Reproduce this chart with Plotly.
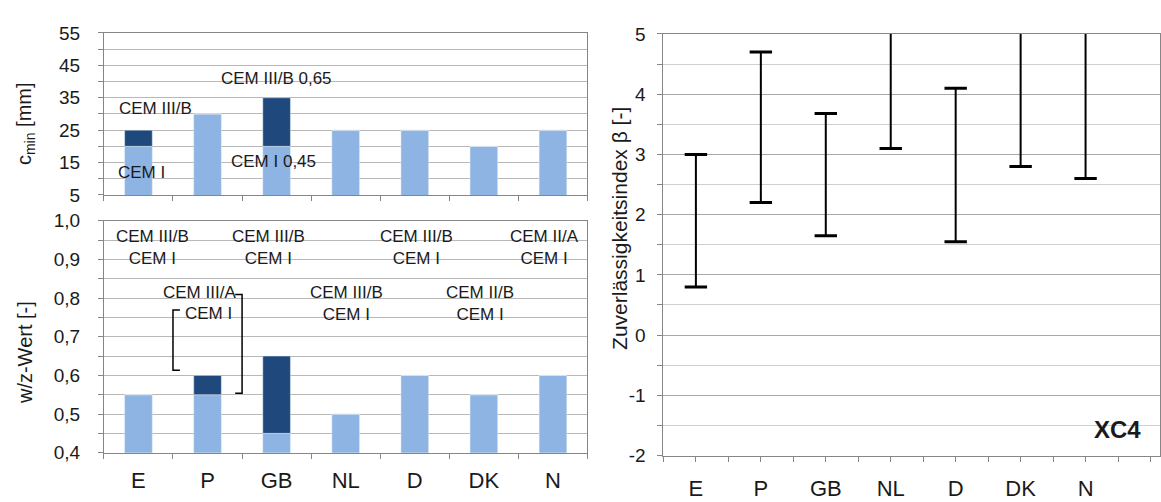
import plotly.graph_objects as go

# Country codes shared by all three panels
countries = ["E", "P", "GB", "NL", "D", "DK", "N"]

# Minimum concrete cover c_min [mm]: CEM I value and upper value (CEM III/B)
cmin_lower = [20, 30, 20, 25, 25, 20, 25]
cmin_upper = [25, 30, 35, 25, 25, 20, 25]

# Maximum w/c ratio: lower value and upper value depending on cement type
wz_lower = [0.55, 0.55, 0.45, 0.50, 0.60, 0.55, 0.60]
wz_upper = [0.55, 0.60, 0.65, 0.50, 0.60, 0.55, 0.60]

# Reliability index beta range per country (upper ends above 5 run off the axis)
beta_low = [0.8, 2.2, 1.65, 3.1, 1.55, 2.8, 2.6]
beta_high = [3.0, 4.7, 3.68, 5.6, 4.1, 5.6, 5.6]

# Axis tick labels
cmin_ticks = [5, 15, 25, 35, 45, 55]
beta_ticks = [-2, -1, 0, 1, 2, 3, 4, 5]
beta_ticktext = ["-2", "-1", "0", "1", "2", "3", "4", "5"]

# Cement-type notes (text, x position in category units, y in data units)
cmin_notes = [
    ("CEM III/B", 0.24, 31.6),
    ("CEM I", 0.05, 11.8),
    ("CEM III/B 0,65", 2.0, 40.8),
    ("CEM I 0,45", 1.96, 15.4),
]
wz_notes = [
    ("CEM III/B<br>CEM I", 0.2, 0.932),
    ("CEM III/B<br>CEM I", 1.88, 0.932),
    ("CEM III/B<br>CEM I", 4.02, 0.932),
    ("CEM II/A<br>CEM I", 5.88, 0.932),
    ("CEM III/A", 0.89, 0.814),
    ("CEM I", 1.01, 0.761),
    ("CEM III/B<br>CEM I", 3.01, 0.787),
    ("CEM II/B<br>CEM I", 4.95, 0.787),
]

LIGHT = "#8DB4E2"
DARK = "#1F497D"
GRID = "#B8B8B8"
GRID_MINOR = "#CFCFCF"
LINE = "#868686"
TEXT = "#1a1a1a"
FONT = "Liberation Sans, Arial, sans-serif"

W, H = 1161, 502
left_x = [104 / W, 588 / W]
top_y = [1 - 193 / H, 1 - 24 / H]
bot_y = [1 - 462 / H, 1 - 220 / H]
right_x = [664 / W, 1.0]
right_y = [1 - 465 / H, 1 - 25 / H]

fig = go.Figure()

# --- c_min panel ---
fig.add_trace(go.Bar(x=countries, y=cmin_lower, marker_color=LIGHT, width=0.4,
                     xaxis="x", yaxis="y", showlegend=False))
fig.add_trace(go.Bar(x=countries, y=[u - l for u, l in zip(cmin_upper, cmin_lower)],
                     base=cmin_lower, marker_color=DARK, width=0.4,
                     xaxis="x", yaxis="y", showlegend=False))

# --- w/z panel ---
fig.add_trace(go.Bar(x=countries, y=wz_lower, marker_color=LIGHT, width=0.4,
                     xaxis="x2", yaxis="y2", showlegend=False))
fig.add_trace(go.Bar(x=countries, y=[u - l for u, l in zip(wz_upper, wz_lower)],
                     base=wz_lower, marker_color=DARK, width=0.4,
                     xaxis="x2", yaxis="y2", showlegend=False))

# --- reliability index panel: vertical ranges with end caps ---
pos = list(range(1, len(countries) + 1))
for xi, lo, hi in zip(pos, beta_low, beta_high):
    fig.add_trace(go.Scatter(x=[xi, xi], y=[lo, hi], mode="lines+markers",
                             line=dict(color="black", width=2),
                             marker=dict(symbol="line-ew", size=16,
                                         line=dict(color="black", width=3)),
                             cliponaxis=True, xaxis="x3", yaxis="y3",
                             showlegend=False, hoverinfo="skip"))

ann = []
for txt, x, y in cmin_notes:
    ann.append(dict(text=txt, x=x, y=y, xref="x", yref="y", showarrow=False,
                    font=dict(size=17, color=TEXT)))
for txt, x, y in wz_notes:
    ann.append(dict(text=txt, x=x, y=y, xref="x2", yref="y2", showarrow=False,
                    font=dict(size=17, color=TEXT)))

# Axis titles
ann.append(dict(text="c<sub>min</sub> [mm]", x=25 / W, y=1 - 118 / H, xref="paper", yref="paper",
                xanchor="center", yanchor="middle",
                textangle=-90, showarrow=False, font=dict(size=20, color=TEXT)))
ann.append(dict(text="w/z-Wert [-]", x=25 / W, y=1 - 357 / H, xref="paper", yref="paper",
                xanchor="center", yanchor="middle",
                textangle=-90, showarrow=False, font=dict(size=20, color=TEXT)))
ann.append(dict(text="Zuverlässigkeitsindex β [-]", x=620 / W, y=1 - 228 / H, xref="paper",
                yref="paper", xanchor="center", yanchor="middle",
                textangle=-90, showarrow=False, font=dict(size=21, color=TEXT)))
ann.append(dict(text="<b>XC4</b>", x=1118 / W, y=1 - 438 / H, xref="paper", yref="paper",
                xanchor="center", yanchor="middle",
                showarrow=False, font=dict(size=24, color=TEXT)))

# Brackets linking the P notes to the bar values
shapes = [
    dict(type="path", path="M 0.60,0.769 L 0.50,0.769 L 0.50,0.613 L 0.60,0.613",
         xref="x2", yref="y2", line=dict(color="black", width=1.5)),
    dict(type="path", path="M 1.40,0.809 L 1.50,0.809 L 1.50,0.554 L 1.40,0.554",
         xref="x2", yref="y2", line=dict(color="black", width=1.5)),
]

cat_x = dict(type="category", categoryorder="array", categoryarray=countries,
             range=[-0.5, 6.5], domain=left_x, tickson="boundaries", ticks="outside",
             ticklen=5, tickcolor=LINE, showline=True, linecolor=LINE, mirror=True,
             showgrid=False)

fig.update_layout(
    width=W, height=H, margin=dict(l=0, r=0, t=0, b=0),
    paper_bgcolor="white", plot_bgcolor="white",
    separators=",.", barmode="overlay", bargap=0.6,
    font=dict(family=FONT, color=TEXT),
    xaxis=dict(cat_x, anchor="y", showticklabels=False),
    yaxis=dict(domain=top_y, anchor="x", range=[5, 55], tickvals=cmin_ticks,
               ticks="outside", ticklen=5, tickcolor=LINE, showline=True, linecolor=LINE,
               mirror=True, showgrid=True, gridcolor=GRID, zeroline=False,
               tickfont=dict(size=19), ticklabelstandoff=14,
               minor=dict(dtick=5, tick0=5, ticks="outside", ticklen=5, tickcolor=LINE,
                          showgrid=True, gridcolor=GRID)),
    xaxis2=dict(cat_x, anchor="y2", showticklabels=True, tickfont=dict(size=22),
                ticklabelstandoff=8),
    yaxis2=dict(domain=bot_y, anchor="x2", range=[0.4, 1.0], dtick=0.1, tick0=0.4,
                tickformat=".1f", ticks="outside", ticklen=5, tickcolor=LINE,
                showline=True, linecolor=LINE, mirror=True, showgrid=True, gridcolor=GRID,
                zeroline=False, tickfont=dict(size=19), ticklabelstandoff=14,
                minor=dict(dtick=0.05, tick0=0.4, ticks="outside", ticklen=5, tickcolor=LINE,
                           showgrid=True, gridcolor=GRID)),
    xaxis3=dict(domain=right_x, anchor="y3", range=[0.5, 8.146], tickvals=pos,
                ticktext=countries, ticks="outside", ticklen=5, tickcolor=LINE,
                showline=True, linecolor=LINE, mirror=True, showgrid=False, zeroline=False,
                tickfont=dict(size=22), ticklabelstandoff=8,
                minor=dict(dtick=0.5, tick0=0.5, ticks="outside", ticklen=5, tickcolor=LINE)),
    yaxis3=dict(domain=right_y, anchor="x3", range=[-2, 5], tickvals=beta_ticks,
                ticktext=beta_ticktext, ticks="outside", ticklen=5, tickcolor=LINE,
                showline=True, linecolor=LINE, mirror=True, showgrid=True, gridcolor="#A8A8A8",
                zeroline=False, tickfont=dict(size=19), ticklabelstandoff=8,
                minor=dict(dtick=0.5, tick0=0, ticks="outside", ticklen=5, tickcolor=LINE,
                           showgrid=True, gridcolor=GRID_MINOR)),
    annotations=ann, shapes=shapes,
)

fig.write_html("out.html")
